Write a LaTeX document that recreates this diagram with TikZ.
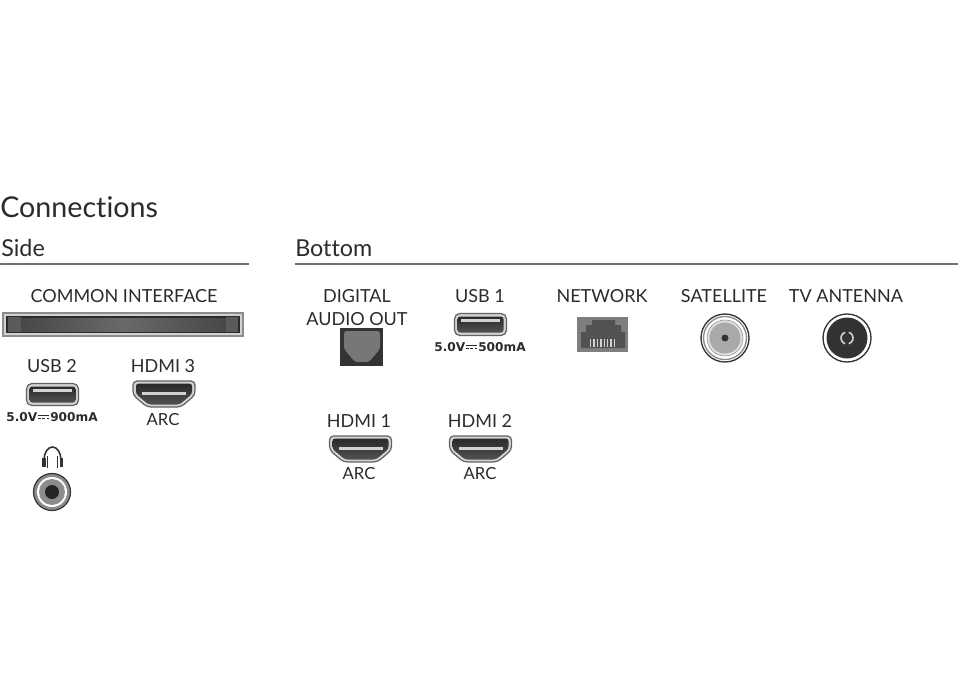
\documentclass[tikz,border=0pt]{standalone}
\usepackage{fontspec}
\setmainfont{Lato}[Ligatures=CommonOff]
\newfontfamily\ratingfont{DejaVu Sans}
\definecolor{ink}{HTML}{2B2B2B}
\definecolor{portdark}{HTML}{333333}
\definecolor{portgrey}{HTML}{8C8C8C}
\definecolor{portlight}{HTML}{D2D2D2}
\newcommand{\dcsign}{\kern0.6pt\rlap{\rule[3.9pt]{8.5pt}{0.8pt}}\rule[1.9pt]{2.2pt}{0.8pt}\kern1pt\rule[1.9pt]{2.2pt}{0.8pt}\kern1pt\rule[1.9pt]{2.2pt}{0.8pt}\kern0.6pt}
\tikzset{
  portlabel/.style={text=ink, inner sep=0pt, font=\fontsize{13.5}{14}\selectfont},
  arclabel/.style={text=ink, inner sep=0pt, font=\fontsize{12.5}{13}\selectfont},
  pagetitle/.style={text=ink, inner sep=0pt, font=\fontsize{21.5}{22}\selectfont},
  heading/.style={text=ink, inner sep=0pt, font=\fontsize{17.5}{18}\selectfont},
  rating/.style={text=ink, inner sep=0pt, font=\ratingfont\bfseries\fontsize{9.1}{9}\selectfont},
  rulerline/.style={draw=portgrey!80!black, line width=0.8pt},
  hdmi/.pic={
    \path[fill=portlight, draw=portgrey!70!black, line width=0.9pt, rounded corners=3pt]
      (-31,-13) -- (31,-13) -- (31,1) -- (17,13) -- (-17,13) -- (-31,1) -- cycle;
    \path[top color=portdark!80!black, bottom color=portdark!85, rounded corners=2pt]
      (-28,-10.5) -- (28,-10.5) -- (28,0) -- (15.5,10.5) -- (-15.5,10.5) -- (-28,0) -- cycle;
    \path[fill=portlight] (-22,-2) rectangle (22,0.5);
  },
  usb/.pic={
    \path[fill=portlight, draw=portgrey!70!black, line width=0.9pt, rounded corners=4pt] (-26,-11) rectangle (26,11);
    \path[top color=portdark!80!black, bottom color=portdark!85, rounded corners=2pt] (-23,-8) rectangle (23,8);
    \path[fill=portlight] (-19.5,-5.5) rectangle (19.5,-2.5);
  }
}
\begin{document}
\begin{tikzpicture}[x=0.75pt, y=-0.75pt]
  \useasboundingbox (0,0) rectangle (960,692);

  % headings
  \node[pagetitle, anchor=west] (connections) at (0,207) {Connections};
  \node[heading, anchor=west] (side) at (1,248) {Side};
  \node[heading, anchor=west] (bottom) at (295,248) {Bottom};
  \coordinate (sideL) at (0,264);
  \coordinate (sideR) at (249,264);
  \coordinate (bottomL) at (295,264);
  \coordinate (bottomR) at (958,264);
  \draw[rulerline] (sideL) -- (sideR);
  \draw[rulerline] (bottomL) -- (bottomR);

  % side
  \node[portlabel] (ci) at (124,296) {COMMON INTERFACE};
  \path[fill=portlight, draw=portgrey, line width=1pt] (3,313) rectangle (243,336);
  \path[fill=portdark!85!black] (6,316) rectangle (240,333);
  \path[left color=portdark!90, right color=portdark!90, middle color=portgrey!75!black] (21,318) rectangle (226,331);
  \path[fill=portgrey!65!black] (8,317) rectangle (21,332);
  \path[fill=portgrey!65!black] (226,317) rectangle (238,332);

  \node[portlabel] (usbtwo) at (52,366) {USB 2};
  \pic at (52.5,394.5) {usb};
  \node[rating] (usbtworate) at (52,417) {5.0V\dcsign 900mA};

  \node[portlabel] (hdmithree) at (163,366) {HDMI 3};
  \pic at (164,394) {hdmi};
  \node[arclabel] (arcthree) at (163,420) {ARC};

  % headphones
  \draw[portdark, line width=1.2pt] (44,460) arc[start angle=180, end angle=360, x radius=8.5, y radius=13];
  \path[fill=portdark] (42,458) rectangle (45.5,467);
  \path[fill=portdark] (59.5,458) rectangle (63,467);
  \path[fill=portdark] (47,456) rectangle (48,468);
  \path[fill=portdark] (57,456) rectangle (58,468);
  \path[fill=portgrey, draw=portdark, line width=0.9pt] (52,492) circle (18.5);
  \path[fill=white] (52,492) circle (15);
  \path[fill=portgrey] (52,492) circle (13);
  \path[fill=portdark!70!black] (52,492) circle (7);

  % bottom row
  \node[portlabel] (digital) at (357,296) {DIGITAL};
  \node[portlabel] (audioout) at (357,319) {AUDIO OUT};
  \path[fill=portdark] (340,328) rectangle (383,366);
  \path[fill=portgrey!85!black, rounded corners=2pt] (344,331) -- (380,331) -- (380,349) -- (369,362) -- (355,362) -- (344,349) -- cycle;

  \node[portlabel] (usbone) at (480,296) {USB 1};
  \pic at (480.5,324.5) {usb};
  \node[rating] (usbonerate) at (480,347) {5.0V\dcsign 500mA};

  \node[portlabel] (network) at (602,296) {NETWORK};
  \path[fill=portgrey!90!black] (577,317) rectangle (628,352);
  \path[fill=portdark!85] (581,348) -- (581,332) -- (586,332) -- (586,325) -- (592,325) -- (592,320) -- (615,320) -- (615,325) -- (621,325) -- (621,332) -- (625,332) -- (625,348) -- cycle;
  \foreach \i in {0,...,7}
    \path[fill=portlight] (590+\i*3.4,339) rectangle ++(1.3,8);

  \node[portlabel] (satellite) at (724,296) {SATELLITE};
  \path[fill=white, draw=portdark, line width=1pt] (725,338) circle (24);
  \path[draw=portgrey, line width=1pt] (725,338) circle (21.5);
  \path[fill=portlight!70, draw=portgrey] (725,338) circle (18);
  \path[fill=portgrey!75] (725,338) circle (15.5);
  \path[fill=portdark] (725,338) circle (3.5);

  \node[portlabel] (antenna) at (846,296) {TV ANTENNA};
  \path[fill=white, draw=portdark, line width=1pt] (847,338) circle (24);
  \path[fill=portdark] (847,338) circle (20.5);
  \draw[portlight, line width=1.2pt] (847,338) ++(-72:6) arc[start angle=-72, end angle=72, radius=6];
  \draw[portlight, line width=1.2pt] (847,338) ++(108:6) arc[start angle=108, end angle=252, radius=6];

  % hdmi row
  \node[portlabel] (hdmione) at (359,421) {HDMI 1};
  \pic at (360.5,449) {hdmi};
  \node[arclabel] (arcone) at (359,474) {ARC};

  \node[portlabel] (hdmitwo) at (480,421) {HDMI 2};
  \pic at (480.5,449) {hdmi};
  \node[arclabel] (arctwo) at (480,474) {ARC};
\end{tikzpicture}
\end{document}
